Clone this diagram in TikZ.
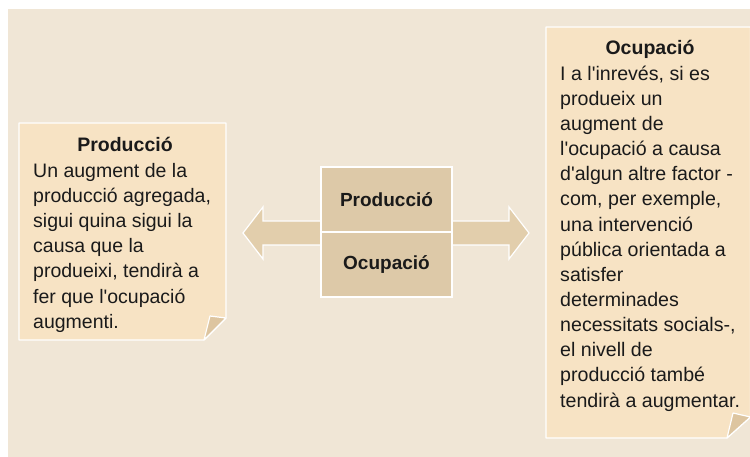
\documentclass[tikz,border=0pt]{standalone}
\usepackage{fontspec}
\setmainfont{Liberation Sans}
\definecolor{bgc}{HTML}{F0E6D6}
\definecolor{notec}{HTML}{F7E3C4}
\definecolor{flapc}{HTML}{DDC5A0}
\definecolor{boxc}{HTML}{DDC9A8}
\definecolor{arrc}{HTML}{E2CEAC}
\definecolor{txtc}{HTML}{1A1A1A}
\tikzset{
  notebox/.style={fill=notec,draw=white,line width=1.2pt,line join=round},
  flapbox/.style={fill=flapc,draw=white,line width=1.2pt,line join=round},
  arrowshape/.style={fill=arrc,draw=white,line width=1.2pt,line join=miter},
  centerbox/.style={fill=boxc,draw=white,line width=1.2pt,minimum width=131pt,minimum height=65pt,inner sep=0pt,
     font=\fontsize{19}{22}\selectfont\bfseries,text=txtc},
  titletext/.style={inner sep=0pt,anchor=base,font=\fontsize{19.5}{22}\selectfont\bfseries,text=txtc},
  lefttext/.style={inner sep=0pt,anchor=base west,font=\fontsize{19.5}{22}\selectfont,text=txtc},
  righttext/.style={inner sep=0pt,anchor=base west,font=\fontsize{19.6}{22}\selectfont,text=txtc}
}
\begin{document}
\begin{tikzpicture}[x=1pt,y=-1pt]
\useasboundingbox (0,0) rectangle (750,457);
\fill[bgc] (8,9) rectangle (750,457);
% left note
\path[notebox] (19,123) -- (226,123) -- (226,318) -- (204,340) -- (19,340) -- cycle;
\path[flapbox] (204,340) -- (210,316) -- (226,318) -- cycle;
% right note
\path[notebox] (546,27) -- (750.5,27) -- (750.5,417) -- (727,438) -- (546,438) -- cycle;
\path[flapbox] (727,438) -- (733,413) -- (750.5,417) -- cycle;
% arrows
\path[arrowshape] (330,221) -- (263,221) -- (263,207) -- (243,233) -- (263,259) -- (263,245) -- (330,245) -- cycle;
\path[arrowshape] (440,221) -- (509,221) -- (509,207) -- (529,233) -- (509,259) -- (509,245) -- (440,245) -- cycle;
% center boxes
\node[centerbox] (prod) at (386.5,199.5) {Producció};
\node[centerbox] (ocup) at (386.5,264.5) {Ocupació};
% left text
\node[titletext] (lt) at (125,152) {Producció};
\foreach \t [count=\i] in {Un augment de la,{producció agregada,},sigui quina sigui la,causa que la,{produeixi, tendirà a},fer que l\textquotesingle ocupació,augmenti.}
  \node[lefttext] (l\i) at ({33},{152+25.2*\i}) {\t};
% right text
\node[titletext] (rt) at (650,55) {Ocupació};
\foreach \t [count=\i] in {{I a l\textquotesingle inrevés, si es},produeix un,augment de,l\textquotesingle ocupació a causa,d\textquotesingle algun altre factor -,{com, per exemple,},una intervenció,pública orientada a,satisfer,determinades,{necessitats socials-,},el nivell de,producció també,tendirà a augmentar.}
  \node[righttext] (r\i) at ({560},{55+25.15*\i}) {\t};
\end{tikzpicture}
\end{document}
